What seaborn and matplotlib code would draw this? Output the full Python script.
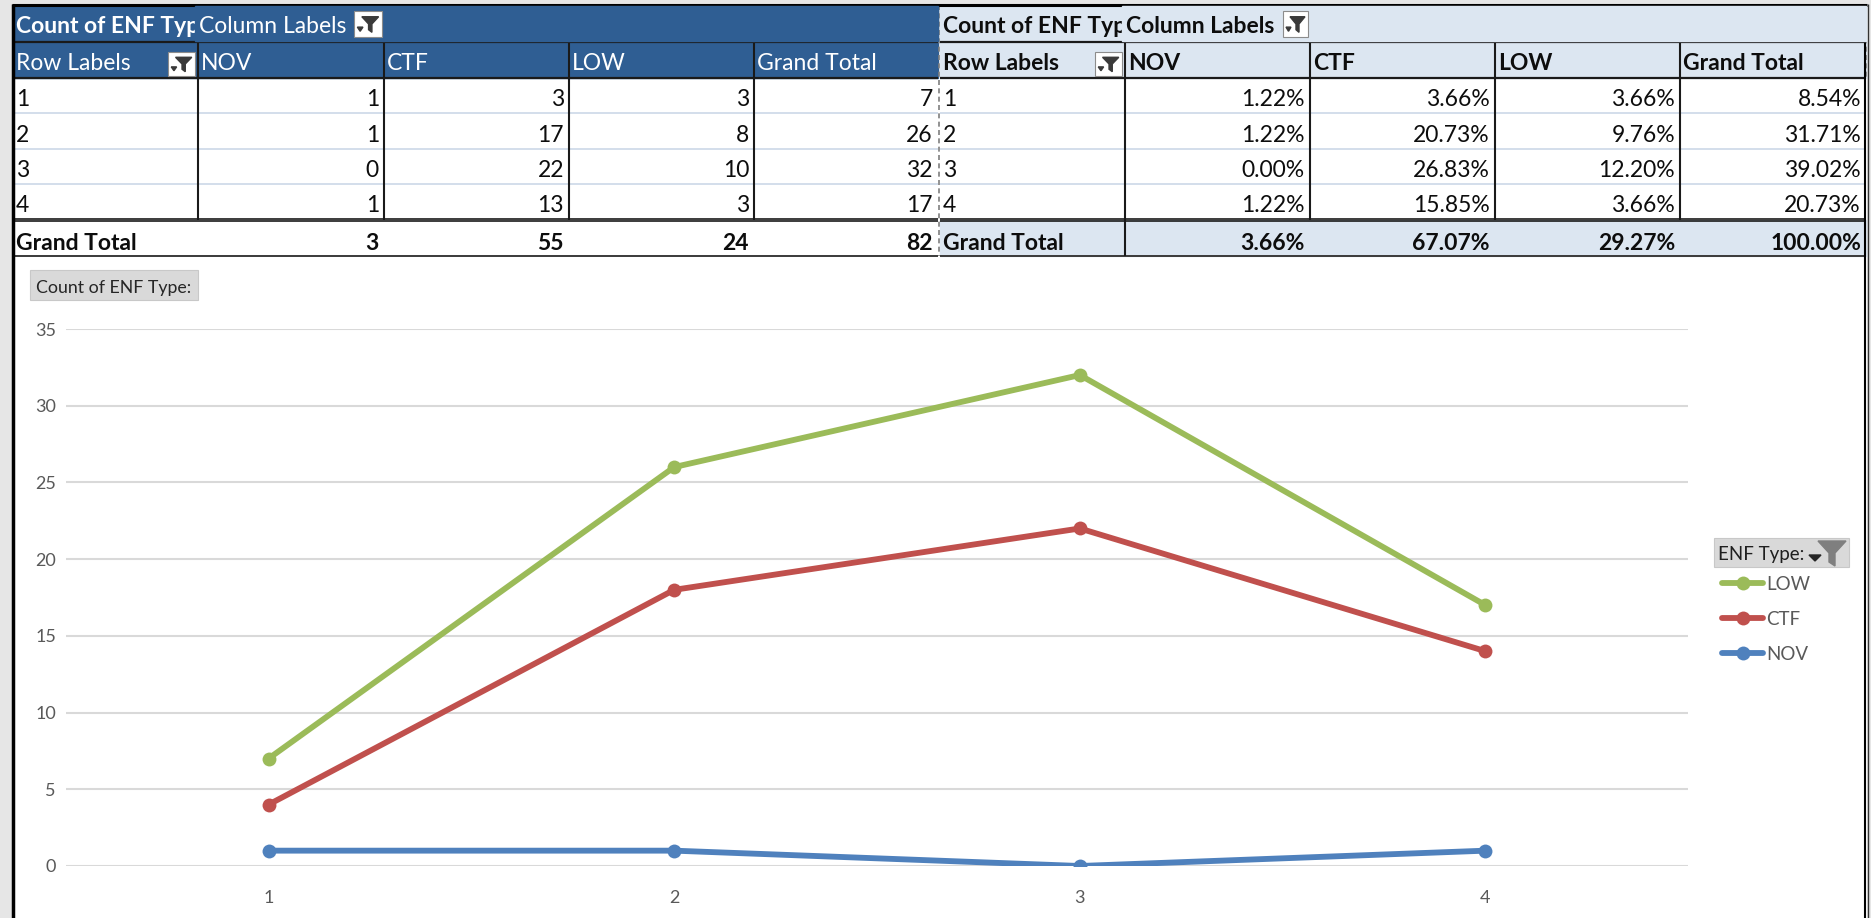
import numpy as np
import pandas as pd
import matplotlib
matplotlib.use("Agg")
import matplotlib.pyplot as plt
from matplotlib.patches import Rectangle, Polygon
import seaborn as sns

# pivot data: ENF type counts per row label
row_labels = ["1", "2", "3", "4"]
enf_types = ["NOV", "CTF", "LOW"]
nov_counts = [1, 1, 0, 1]
ctf_counts = [3, 17, 22, 13]
low_counts = [3, 8, 10, 3]
header_labels = ["Row Labels", "NOV", "CTF", "LOW", "Grand Total"]

counts = pd.DataFrame({"NOV": nov_counts, "CTF": ctf_counts, "LOW": low_counts}, index=row_labels)
row_totals = counts.sum(axis=1)
col_totals = counts.sum(axis=0)
grand_total = counts.values.sum()

# colours
BLUE_HDR = "#2F5E93"
LIGHT_HDR = "#DCE6F1"
TXT = "#0D0D0D"
SEP = "#D3DEEB"
line_colors = {"LOW": "#9BBB59", "CTF": "#C0504D", "NOV": "#4F81BD"}

W, H = 1871, 918
sns.set_style("white")
plt.rcParams["font.family"] = ["Lato", "DejaVu Sans"]
FS = 16.5

fig = plt.figure(figsize=(W / 100, H / 100), dpi=100)
bg = fig.add_axes([0, 0, 1, 1], zorder=0)
bg.set_xlim(0, W)
bg.set_ylim(H, 0)
bg.axis("off")

# page background and frame
bg.add_patch(Rectangle((0, 0), W, H, color="#E6E6E6", zorder=0))
bg.add_patch(Rectangle((13, 5), 1853, H, color="white", zorder=0.5))

ROW_Y = [5, 42, 78, 113, 149, 184, 220, 256]
LEFT_X = [13, 198, 384, 569, 754, 938]
RIGHT_X = [940, 1125, 1310, 1495, 1680, 1866]


def hline(x0, x1, y, color="black", lw=1.5, ls="-"):
    bg.plot([x0, x1], [y, y], color=color, lw=lw, ls=ls, solid_capstyle="butt", zorder=3)


def vline(x, y0, y1, color="black", lw=1.5, ls="-"):
    bg.plot([x, x], [y0, y1], color=color, lw=lw, ls=ls, solid_capstyle="butt", zorder=3)


def txt(x, y, s, ha="left", color=TXT, bold=False, size=FS, z=4):
    return bg.text(x, y, s, ha=ha, va="center_baseline", fontsize=size, color=color,
                   fontweight="bold" if bold else "normal", zorder=z)


def filter_btn(x, y, w, h, face="white", edge="#8C8C8C"):
    bg.add_patch(Rectangle((x, y), w, h, facecolor=face, edgecolor=edge, lw=0.8, zorder=5))
    cx = x + w * 0.58
    funnel = [(cx - w * 0.3, y + h * 0.22), (cx + w * 0.3, y + h * 0.22),
              (cx + w * 0.06, y + h * 0.5), (cx + w * 0.06, y + h * 0.82),
              (cx - w * 0.06, y + h * 0.72), (cx - w * 0.06, y + h * 0.5)]
    bg.add_patch(Polygon(funnel, closed=True, color="#3A3A3A", zorder=6))
    arrow = [(x + w * 0.12, y + h * 0.62), (x + w * 0.32, y + h * 0.62), (x + w * 0.22, y + h * 0.78)]
    bg.add_patch(Polygon(arrow, closed=True, color="#3A3A3A", zorder=6))


def draw_table(xs, fmt, dark):
    hdr_bg = BLUE_HDR if dark else LIGHT_HDR
    hdr_fg = "white" if dark else TXT
    x0, x1 = xs[0], xs[-1]
    bg.add_patch(Rectangle((x0, ROW_Y[0]), x1 - x0, ROW_Y[2] - ROW_Y[0], color=hdr_bg, zorder=1))
    if not dark:
        bg.add_patch(Rectangle((x0, ROW_Y[6]), x1 - x0, ROW_Y[7] - ROW_Y[6], color=LIGHT_HDR, zorder=1))
    # header row 1: first caption is cut off by the next cell
    yc = (ROW_Y[0] + ROW_Y[1]) / 2 + 1
    txt(x0 + 3, yc, "Count of ENF Type", color=hdr_fg, bold=True, z=4)
    bg.add_patch(Rectangle((xs[1] - 3, ROW_Y[0] + 1), x1 - xs[1] + 3, ROW_Y[1] - ROW_Y[0] - 2,
                           color=hdr_bg, zorder=4.2))
    txt(xs[1] + 1, yc, "Column Labels", color=hdr_fg, bold=not dark, z=4.5)
    bw = 28 if dark else 25
    bx = xs[1] + (156 if dark else 158)
    filter_btn(bx, ROW_Y[0] + 6, bw, 26)
    # header row 2
    yc = (ROW_Y[1] + ROW_Y[2]) / 2 + 1
    for i, lab in enumerate(header_labels):
        txt(xs[i] + 3, yc, lab, color=hdr_fg, bold=not dark)
    filter_btn(xs[1] - 30, ROW_Y[1] + 10, 27, 24)
    hline(x0, x1, ROW_Y[1], color="#1A1A1A", lw=1.6)
    hline(x0, x1, ROW_Y[2], color="#1A1A1A", lw=1.6)
    # body rows
    for r, lab in enumerate(row_labels):
        yc = (ROW_Y[2 + r] + ROW_Y[3 + r]) / 2 + 2
        txt(x0 + 3, yc, lab)
        vals = list(counts.loc[lab].values) + [row_totals[lab]]
        for c, v in enumerate(vals):
            txt(xs[c + 2] - 5, yc, fmt(v), ha="right")
        if r < 3:
            hline(x0, x1, ROW_Y[3 + r], color=SEP, lw=1.4)
    # grand total row
    yc = (ROW_Y[6] + ROW_Y[7]) / 2 + 3
    txt(x0 + 3, yc, "Grand Total", bold=True)
    gvals = list(col_totals.values) + [grand_total]
    for c, v in enumerate(gvals):
        txt(xs[c + 2] - 5, yc, fmt(v), ha="right", bold=True)
    hline(x0, x1, ROW_Y[6] - 1.5, color="#1A1A1A", lw=1.2)
    hline(x0, x1, ROW_Y[6] + 1, color="#1A1A1A", lw=1.2)
    hline(x0, x1, ROW_Y[7], color="#3A3A3A", lw=1.4)
    # vertical column lines
    for x in xs[1:-1]:
        vline(x, ROW_Y[1], ROW_Y[6], color="#1A1A1A", lw=1.5)
    if not dark:
        vline(xs[1], ROW_Y[6], ROW_Y[7], color="#1A1A1A", lw=1.5)


draw_table(LEFT_X, lambda v: f"{int(v)}", dark=True)
draw_table(RIGHT_X, lambda v: f"{v / grand_total * 100:.2f}%", dark=False)

# marching-ants selection border and outer frame
vline(939, ROW_Y[0], ROW_Y[7], color="#7F7F7F", lw=1.2, ls=(0, (3, 2)))
vline(1866, ROW_Y[0], ROW_Y[2], color="#7F7F7F", lw=1.2, ls=(0, (3, 2)))
hline(12, 1867, 5, color="black", lw=2.2)
vline(13, 4, H, color="black", lw=2.5)
vline(1865, 4, H, color="black", lw=1.5)
vline(1868, 4, H, color="#333333", lw=1.0)

# chart field button
bg.add_patch(Rectangle((30, 270), 168, 30, facecolor="#D9D9D9", edgecolor="#C8C8C8", lw=0.8, zorder=2))
txt(36, 286, "Count of ENF Type:", color="#262626", size=12.8)

# legend field button
bg.add_patch(Rectangle((1714, 538), 135, 29, facecolor="#D9D9D9", edgecolor="#C8C8C8", lw=0.8, zorder=2))
txt(1718, 553, "ENF Type:", color="#1F1F1F", size=13.5)
bg.add_patch(Polygon([(1818, 541), (1846, 541), (1835, 553), (1835, 566), (1829, 562), (1829, 553)],
                     closed=True, color="#7F7F7F", zorder=5))
bg.add_patch(Polygon([(1809, 555), (1821, 555), (1815, 561)], closed=True, color="#262626", zorder=5))

# stacked line chart
stacked = counts[enf_types].cumsum(axis=1)
long = stacked.reset_index(names="row").melt(id_vars="row", var_name="type", value_name="value")
long["row"] = long["row"].astype(int)

ax = fig.add_axes([65.7 / W, (H - 866) / H, (1688.3 - 65.7) / W, (866 - 329) / H], zorder=2)
ax.set_facecolor("none")
sns.lineplot(data=long, x="row", y="value", hue="type", hue_order=enf_types, palette=line_colors,
             marker="o", markersize=10, markeredgewidth=0, linewidth=4.2, ax=ax, legend=True)
ax.set_xlim(0.5, 4.5)
ax.set_ylim(0, 35)
ax.set_yticks(np.arange(0, 36, 5))
ax.set_xticks([1, 2, 3, 4])
ax.set_xticklabels(row_labels)
ax.grid(axis="y", color="#D9D9D9", lw=1.5)
ax.grid(axis="x", visible=False)
ax.set_axisbelow(True)
for s in ax.spines.values():
    s.set_visible(False)
ax.tick_params(axis="both", length=0, labelsize=13, labelcolor="#595959")
ax.tick_params(axis="x", pad=17)
ax.tick_params(axis="y", pad=7)
ax.set_xlabel("")
ax.set_ylabel("")

handles, labels = ax.get_legend_handles_labels()
ax.legend(handles[::-1], labels[::-1], loc="upper left", bbox_to_anchor=(1722 / W, 1 - 576 / H),
          bbox_transform=fig.transFigure, frameon=False, fontsize=13.5, labelcolor="#595959",
          handlelength=2.2, handletextpad=0.15, labelspacing=0.95, borderpad=0, borderaxespad=0)

fig.savefig("out.png", dpi=100)
